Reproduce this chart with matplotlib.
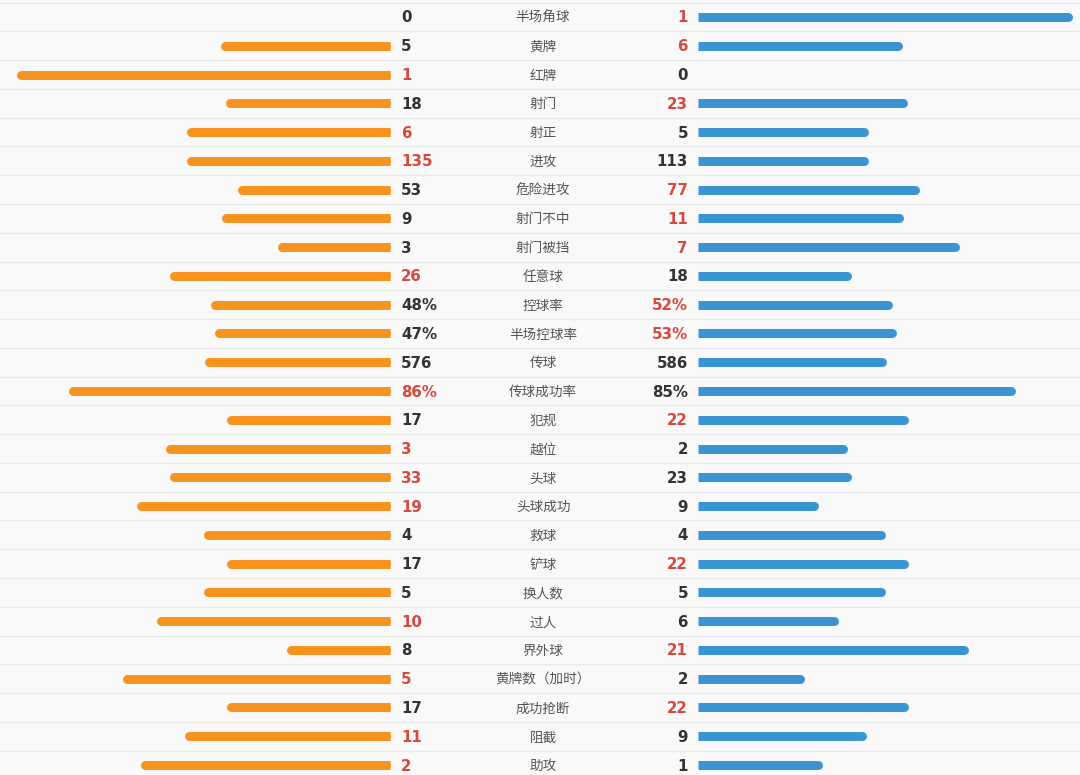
import matplotlib.pyplot as plt
import numpy as np

plt.rcParams['font.family'] = ['Noto Sans CJK SC', 'DejaVu Sans']

labels = ["半场角球", "黄牌", "红牌", "射门", "射正", "进攻", "危险进攻", "射门不中",
          "射门被挡", "任意球", "控球率", "半场控球率", "传球", "传球成功率", "犯规",
          "越位", "头球", "头球成功", "救球", "铲球", "换人数", "过人", "界外球",
          "黄牌数（加时）", "成功抢断", "阻截", "助攻"]
home = [0, 5, 1, 18, 6, 135, 53, 9, 3, 26, 48, 47, 576, 86, 17,
        3, 33, 19, 4, 17, 5, 10, 8, 5, 17, 11, 2]
away = [1, 6, 0, 23, 5, 113, 77, 11, 7, 18, 52, 53, 586, 85, 22,
        2, 23, 9, 4, 22, 5, 6, 21, 2, 22, 9, 1]
# rows given in percent
pct = [False] * 10 + [True, True, False, True] + [False] * 13
# which side is printed in red ('' = none)
red = ['R', 'R', 'L', 'R', 'L', 'L', 'R', 'R', 'R', 'L', 'R', 'R', '', 'L', 'R',
       'L', 'L', 'L', '', 'R', '', 'L', 'R', 'L', 'R', 'L', 'L']

orange = '#f7931e'
blue = '#3a94d3'
red_c = '#d6493f'
dark = '#333333'

W, H = 1080, 775
fig = plt.figure(figsize=(W / 100, H / 100), dpi=100)
fig.patch.set_facecolor('#f9f9f9')
ax = fig.add_axes([0, 0, 1, 1])
ax.set_facecolor('#f9f9f9')
ax.set_xlim(0, W)
ax.set_ylim(H, 0)
ax.axis('off')

n = len(labels)
row_h = 28.77
y0 = 17
left_x = 390    # inner end of orange bars
right_x = 698   # inner end of blue bars
full = 374      # length of a 100% bar
thick = 9       # px
lw = thick * 72 / 100.0
r = thick / 2.0

ys = y0 + row_h * np.arange(n)

# row separators
for y in np.append(ys - row_h / 2, ys[-1] + row_h / 2):
    ax.axhline(y, color='#e8e8e8', lw=0.9, zorder=1)


def bar(x_in, x_out, y, c):
    # round cap on the outer end, square on the inner end
    d = 1 if x_out > x_in else -1
    ax.plot([x_in + d * r, x_out - d * r], [y, y], color=c, lw=lw,
            solid_capstyle='round', zorder=2)
    ax.plot([x_in, x_in + d * 2 * r], [y, y], color=c, lw=lw,
            solid_capstyle='butt', zorder=2)


for i in range(n):
    y = ys[i]
    if pct[i]:
        fl, fr = home[i] / 100.0, away[i] / 100.0
    else:
        tot = home[i] + away[i]
        fl, fr = (home[i] / tot, away[i] / tot) if tot else (0, 0)

    if fl > 0:
        bar(left_x, left_x - fl * full, y, orange)
    if fr > 0:
        bar(right_x, right_x + fr * full, y, blue)

    suf = '%' if pct[i] else ''
    ax.text(401, y + 1, str(home[i]) + suf, ha='left', va='center', fontsize=10.8,
            fontweight='bold', family='DejaVu Sans',
            color=red_c if red[i] == 'L' else dark, zorder=3)
    ax.text(688, y + 1, str(away[i]) + suf, ha='right', va='center', fontsize=10.8,
            fontweight='bold', family='DejaVu Sans',
            color=red_c if red[i] == 'R' else dark, zorder=3)
    ax.text(543, y + 1, labels[i], ha='center', va='center', fontsize=9.8,
            color='#555555', zorder=3)

fig.savefig('out.png', dpi=100, facecolor=fig.get_facecolor())
plt.close()
